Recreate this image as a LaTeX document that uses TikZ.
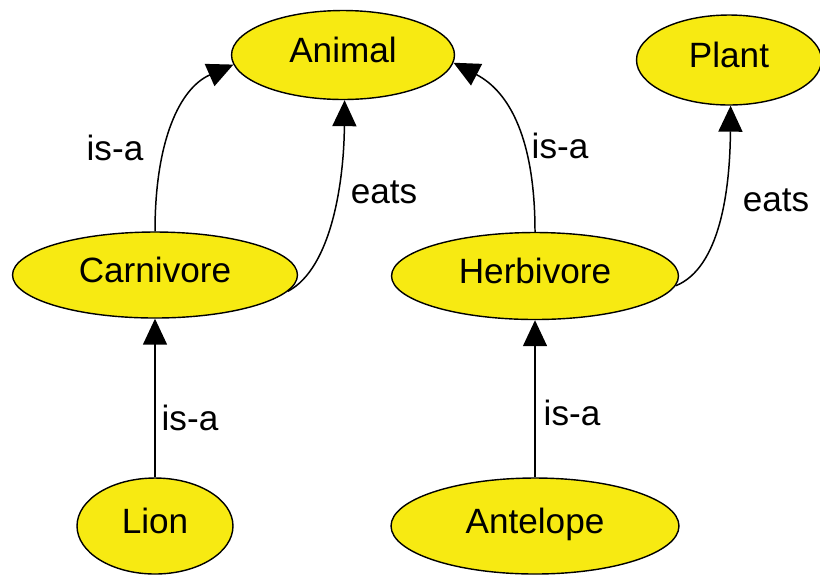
\documentclass[tikz,border=0pt]{standalone}
\usepackage{fontspec}
\setmainfont{Liberation Sans}
\usetikzlibrary{shapes.geometric,arrows.meta,calc}
\definecolor{nodeyellow}{RGB}{247,234,18}

\begin{document}
\begin{tikzpicture}[x=0.02cm,y=-0.02cm,
		concept/.style={ellipse,draw=black,line width=0.8pt,fill=nodeyellow,inner sep=0pt,
			text height=14.5pt,text depth=6pt,font=\fontsize{20}{24}\selectfont},
		lbl/.style={inner sep=0pt,font=\fontsize{20}{24}\selectfont},
		>={Triangle[length=0.52cm,width=0.48cm]}]
				\useasboundingbox (0,0) rectangle (820,576);
				
				\node[concept,minimum width=4.46cm,minimum height=1.78cm] (animal) at (343,55) {Animal};
				\node[concept,minimum width=3.7cm,minimum height=1.8cm] (plant) at (729,60) {Plant};
				\node[concept,minimum width=5.7cm,minimum height=1.72cm] (carn) at (155,275) {Carnivore};
				\node[concept,minimum width=5.74cm,minimum height=1.74cm] (herb) at (535,276) {Herbivore};
				\node[concept,minimum width=3.12cm,minimum height=1.92cm] (lion) at (155,526) {Lion};
				\node[concept,minimum width=5.76cm,minimum height=1.92cm] (ante) at (535,526) {Antelope};
				
				\draw[line width=0.85pt,->] (carn.north) .. controls (155,140) and (180,88) .. (animal.185);
				\draw[line width=0.85pt,->] (carn.-7) .. controls (332,268) and (344,180) .. (animal.-88);
				\draw[line width=0.85pt,->] (herb.north) .. controls (535,140) and (510,92) .. (animal.-4);
				\draw[line width=0.85pt,->] (herb.-4) .. controls (720,268) and (730,190) .. (plant.-88);
				
				\foreach \a/\b in {lion/carn,ante/herb}{
					\draw[line width=0.85pt,->] (\a.north) -- (\b.south);}
				
				\node[lbl] (isa1) at (115,148) {is-a};
				\node[lbl] (eats1) at (384,192) {eats};
				\node[lbl] (isa2) at (560,146) {is-a};
				\node[lbl] (eats2) at (776,200) {eats};
				\node[lbl] (isa3) at (190,418) {is-a};
				\node[lbl] (isa4) at (572,413) {is-a};
			\end{tikzpicture}
\end{document}
